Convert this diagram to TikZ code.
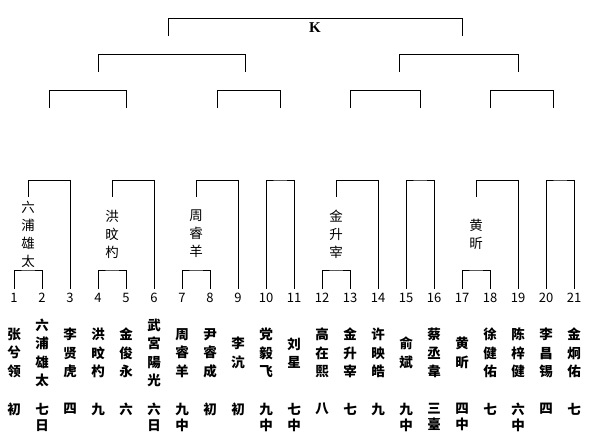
\documentclass[tikz,border=0pt]{standalone}
\usepackage{fontspec}
\setmainfont{Noto Sans CJK SC}
\newfontfamily\kfont{Liberation Serif}
\usepackage{tikz}
\usetikzlibrary{positioning,calc}

\begin{document}
\begin{tikzpicture}[x=1pt,y=-1pt,
  br/.style={line width=0.9pt,black,line cap=rect},
  num/.style={font=\fontsize{13}{13}\selectfont,inner sep=0pt,outer sep=5pt},
  nm/.style={font=\bfseries\fontsize{13.5}{18.5}\selectfont,align=center,inner sep=0pt},
  rk/.style={font=\bfseries\fontsize{13.5}{16}\selectfont,align=center,inner sep=0pt,anchor=north},
  wn/.style={font=\fontsize{13.5}{18}\selectfont,align=center,inner sep=0pt}]
\useasboundingbox[fill=white] (0,0) rectangle (589,435);
\foreach \i/\n/\r in {
  1/{张\\兮\\领}/初, 2/{六\\浦\\雄\\太}/{七\\日}, 3/{李\\贤\\虎}/四,
  4/{洪\\旼\\杓}/九, 5/{金\\俊\\永}/六, 6/{武\\宮\\陽\\光}/{六\\日},
  7/{周\\睿\\羊}/{九\\中}, 8/{尹\\睿\\成}/初, 9/{李\\沆}/初,
  10/{党\\毅\\飞}/{九\\中}, 11/{刘\\星}/{七\\中}, 12/{高\\在\\熙}/八,
  13/{金\\升\\宰}/七, 14/{许\\映\\皓}/九, 15/{俞\\斌}/{九\\中},
  16/{蔡\\丞\\韋}/{三\\臺}, 17/{黄\\昕}/{四\\中}, 18/{徐\\健\\佑}/七,
  19/{陈\\梓\\健}/{六\\中}, 20/{李\\昌\\锡}/四, 21/{金\\炯\\佑}/七}{
    \node[num] (p\i) at (\i*28-14,298) {\i};
    \node[nm] (n\i) at (\i*28-14,353) {\n};
    \node[rk] (r\i) at (\i*28-14,403) {\r};
}
\foreach \a/\b in {1/2,4/5,7/8,12/13,17/18}{
  \coordinate (m\a) at (\a*28,270);
  \draw[br] (p\a.north) |- (m\a) -| (p\b.north);
}
\foreach \a/\c/\n in {1/3/{六\\浦\\雄\\太}, 4/6/{洪\\旼\\杓}, 7/9/{周\\睿\\羊},
  12/14/{金\\升\\宰}, 17/19/{黄\\昕}}{
  \coordinate (c\a) at (\a*28,197);
  \node[wn] (w\a) at (\a*28,234) {\n};
  \draw[br] (c\a) -- ++(0,-17) -| (p\c.north);
}
\foreach \a/\b in {10/11,15/16,20/21}{
  \coordinate (q\a) at (\a*28,180);
  \draw[br] (p\a.north) |- (q\a) -| (p\b.north);
}
\foreach \l/\r/\y [count=\k] in {49/126/108, 217/280/108, 350/420/108, 490/553/108,
  98/245/72, 399/518/72, 168/462/36}{
  \coordinate (ul\k) at (\l,\y);
  \coordinate (ur\k) at (\r,\y);
  \draw[br] (ul\k) -- ++(0,-18) -| (ur\k);
}
\node[font=\kfont\bfseries\fontsize{15}{15}\selectfont] (k) at (315,28) {K};
\end{tikzpicture}
\end{document}
